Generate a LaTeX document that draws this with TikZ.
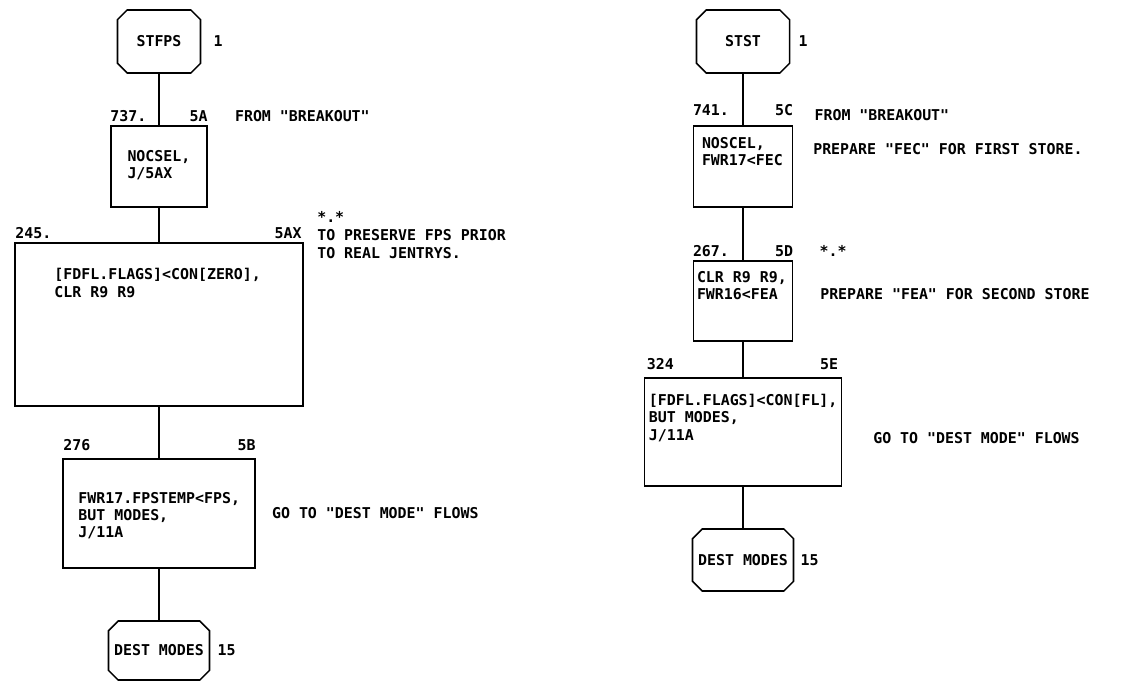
\documentclass[tikz,border=0pt]{standalone}
\usepackage{fontspec}
\setmonofont{DejaVu Sans Mono}
\usetikzlibrary{shapes.misc, positioning}

\begin{document}
\begin{tikzpicture}[
  x=0.025cm, y=-0.025cm,
  font=\fontsize{10.6}{12.4}\selectfont\ttfamily\bfseries,
  box/.style={rectangle, draw, line width=1.1pt, inner sep=0pt},
  term/.style={chamfered rectangle, chamfered rectangle xsep=0.42cm,
               draw, line width=1.1pt, inner sep=0pt},
  txt/.style={inner sep=0pt, align=left},
  link/.style={line width=1.1pt},
]
\useasboundingbox (0,0) rectangle (1141,681);

% STFPS flow
\node[term, minimum width=2.075cm, minimum height=1.575cm] (stfps) at (159,41.5) {STFPS};
\node[box, minimum width=2.4cm, minimum height=2.025cm] (nocsel) at (159,166.5) {};
\node[box, minimum width=7.2cm, minimum height=4.075cm] (flzero) at (159,324.5) {};
\node[box, minimum width=4.8cm, minimum height=2.725cm] (fpstemp) at (159,513.5) {};
\node[term, minimum width=2.225cm, minimum height=1.475cm] (destA) at (159,650.5) {DEST MODES};

\node[txt, right=0.3cm of stfps] (stfpsNo) {1};
\node[txt, above right=0.075cm and 0cm of nocsel.north west] (nocselNo) {737.};
\node[txt, above left=0.075cm and 0cm of nocsel.north east] (nocselId) {5A};
\node[txt, above right=0.075cm and 0.675cm of nocsel.north east] (nocselNote) {FROM "BREAKOUT"};
\node[txt, below right=0.6125cm and 0.425cm of nocsel.north west] (nocselTxt) {NOCSEL,\\J/5AX};

\node[txt, above right=0.075cm and 0.025cm of flzero.north west] (flzeroNo) {245.};
\node[txt, above left=0.075cm and 0.05cm of flzero.north east] (flzeroId) {5AX};
\node[txt, anchor=base west] (flzeroMark) at (317,223) {*.*};
\node[txt, anchor=north west] (flzeroNote) at (317,229.5) {TO PRESERVE FPS PRIOR\\TO REAL JENTRYS.};
\node[txt, below right=0.65cm and 1.0cm of flzero.north west] (flzeroTxt) {[FDFL.FLAGS]<CON[ZERO],\\CLR R9 R9};

\node[txt, above right=0.175cm and 0.025cm of fpstemp.north west] (fpstempNo) {276};
\node[txt, above left=0.175cm and 0cm of fpstemp.north east] (fpstempId) {5B};
\node[txt, right=0.4cm of fpstemp] (fpstempNote) {GO TO "DEST MODE" FLOWS};
\node[txt, below right=0.8375cm and 0.4cm of fpstemp.north west] (fpstempTxt) {FWR17.FPSTEMP<FPS,\\BUT MODES,\\J/11A};

\node[txt, right=0.175cm of destA] (destANo) {15};

\draw[link] (stfps) -- (nocsel);
\draw[link] (nocsel) -- (flzero);
\draw[link] (flzero) -- (fpstemp);
\draw[link] (fpstemp) -- (destA);

% STST flow
\node[term, minimum width=2.325cm, minimum height=1.575cm] (stst) at (743,41.5) {STST};
\node[box, minimum width=2.475cm, minimum height=2.025cm] (noscel) at (743,166.5) {};
\node[box, minimum width=2.475cm, minimum height=2.0cm] (clrfea) at (743,301) {};
\node[box, minimum width=4.925cm, minimum height=2.7cm] (flfl) at (743,432) {};
\node[term, minimum width=2.35cm, minimum height=1.55cm] (destB) at (743,560) {DEST MODES};

\node[txt, right=0.2cm of stst] (ststNo) {1};
\node[txt, above right=0.225cm and 0cm of noscel.north west] (noscelNo) {741.};
\node[txt, above left=0.225cm and 0cm of noscel.north east] (noscelId) {5C};
\node[txt, above right=0.1cm and 0.525cm of noscel.north east] (noscelNote) {FROM "BREAKOUT"};
\node[txt, anchor=base west] (noscelPrep) at (813,155) {PREPARE "FEC" FOR FIRST STORE.};
\node[txt, below right=0.2875cm and 0.225cm of noscel.north west] (noscelTxt) {NOSCEL,\\FWR17<FEC};

\node[txt, above right=0.075cm and 0cm of clrfea.north west] (clrfeaNo) {267.};
\node[txt, above left=0.075cm and 0cm of clrfea.north east] (clrfeaId) {5D};
\node[txt, above right=0.075cm and 0.65cm of clrfea.north east] (clrfeaMark) {*.*};
\node[txt, anchor=base west] (clrfeaPrep) at (820,300) {PREPARE "FEA" FOR SECOND STORE};
\node[txt, below right=0.2625cm and 0.1cm of clrfea.north west] (clrfeaTxt) {CLR R9 R9,\\FWR16<FEA};

\node[txt, above right=0.175cm and 0.075cm of flfl.north west] (flflNo) {324};
\node[txt, above left=0.175cm and 0.1cm of flfl.north east] (flflId) {5E};
\node[txt, anchor=base west] (flflNote) at (873,443) {GO TO "DEST MODE" FLOWS};
\node[txt, below right=0.4125cm and 0.125cm of flfl.north west] (flflTxt) {[FDFL.FLAGS]<CON[FL],\\BUT MODES,\\J/11A};

\node[txt, right=0.15cm of destB] (destBNo) {15};

\draw[link] (stst) -- (noscel);
\draw[link] (noscel) -- (clrfea);
\draw[link] (clrfea) -- (flfl);
\draw[link] (flfl) -- (destB);

\end{tikzpicture}
\end{document}
